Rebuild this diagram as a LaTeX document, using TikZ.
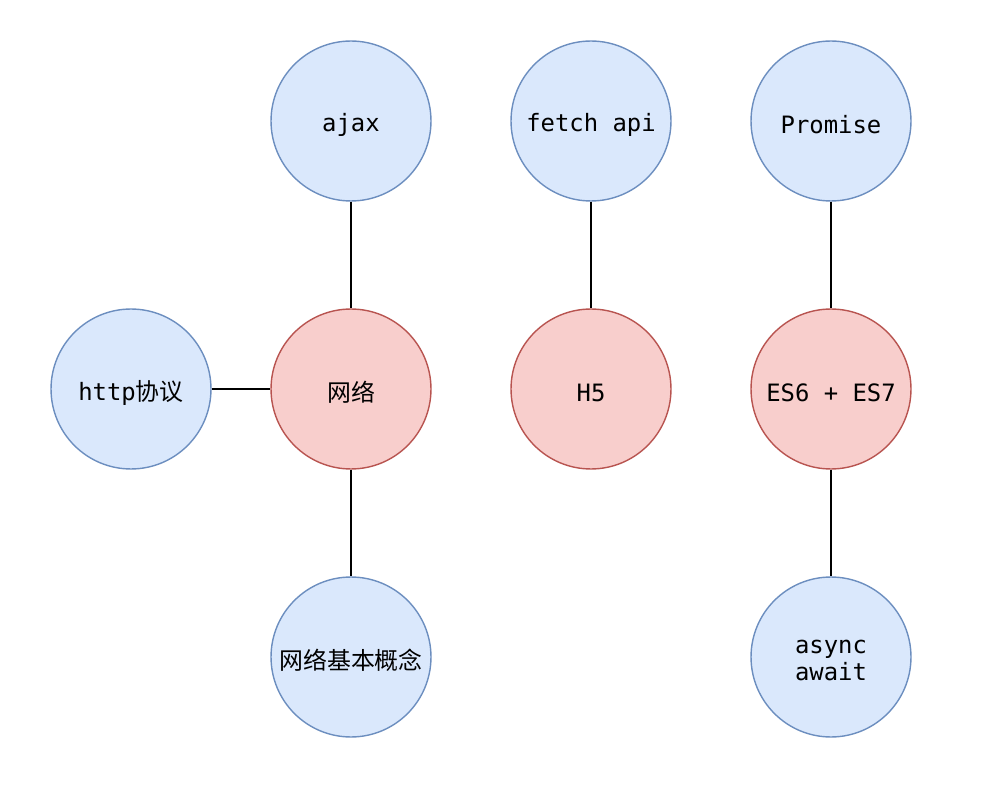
\documentclass[tikz,border=0pt]{standalone}
\usepackage{fontspec}
\setmonofont{DejaVu Sans Mono}
\newfontfamily\cjk{Noto Sans CJK SC}
\definecolor{bfill}{HTML}{DAE8FC}
\definecolor{bdraw}{HTML}{6C8EBF}
\definecolor{rfill}{HTML}{F8CECC}
\definecolor{rdraw}{HTML}{B85450}
\begin{document}
\begin{tikzpicture}[x=0.02cm,y=-0.02cm,
  base/.style={circle,minimum size=3.2cm,inner sep=0pt,line width=0.8pt},
  bluec/.style={base,fill=bfill,draw=bdraw},
  redc/.style={base,fill=rfill,draw=rdraw},
  txt/.style={inner sep=0pt,align=center,yshift=-0.07cm,
    font=\ttfamily\fontsize{13.6}{15.9}\selectfont},
  link/.style={line width=0.6pt,draw=black}]
\useasboundingbox (0,0) rectangle (998,804);
\node[bluec] (ajax) at (351,121) {};
\node[bluec] (fetch) at (591,121) {};
\node[bluec] (promise) at (831,121) {};
\node[bluec] (http) at (131,389) {};
\node[redc] (net) at (351,389) {};
\node[redc] (h5) at (591,389) {};
\node[redc] (es) at (831,389) {};
\node[bluec] (basic) at (351,657) {};
\node[bluec] (async) at (831,657) {};
\node[txt] (ajaxt) at (ajax.center) {ajax};
\node[txt] (fetcht) at (fetch.center) {fetch api};
\node[txt] (promiset) at (promise.center) {Promise};
\node[txt] (httpt) at (http.center) {http{\cjk 协议}};
\node[txt] (nett) at (net.center) {{\cjk 网络}};
\node[txt] (h5t) at (h5.center) {H5};
\node[txt] (est) at (es.center) {ES6 + ES7};
\node[txt] (basict) at (basic.center) {{\cjk 网络基本概念}};
\node[txt] (asynct) at (async.center) {async\\await};
\draw[link] (ajax) -- (net);
\draw[link] (http) -- (net);
\draw[link] (net) -- (basic);
\draw[link] (fetch) -- (h5);
\draw[link] (promise) -- (es);
\draw[link] (es) -- (async);
\end{tikzpicture}
\end{document}
